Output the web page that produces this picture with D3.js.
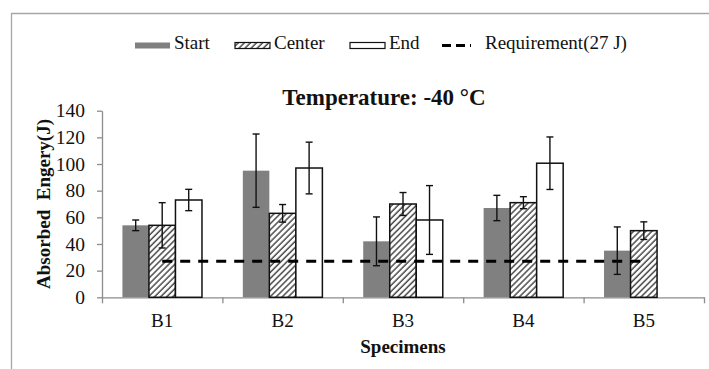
<!DOCTYPE html>
<html>
<head>
<meta charset="utf-8">
<script src="https://cdn.jsdelivr.net/npm/d3@7"></script>
<style>
  body { margin: 0; background: #fff; }
  svg { display: block; font-family: "Liberation Serif", "Times New Roman", serif; }
</style>
</head>
<body>
<div id="chart"></div>
<script>
/** Chart data */
const categories = ["B1", "B2", "B3", "B4", "B5"];
const seriesNames = ["Start", "Center", "End"];
const startVals = [54, 95, 42, 67, 35];
const startErr = [4, 27.5, 18.3, 9.5, 17.8];
const centerVals = [54, 63, 70, 71, 50];
const centerErr = [17, 6.6, 8.6, 4.5, 6.6];
const endVals = [73, 97, 58, 100.6, null];
const endErr = [8, 19.4, 25.8, 19.7, null];
const requirement = 27;
const yTicks = [0, 20, 40, 60, 80, 100, 120, 140];

const w = 709, h = 369;
const plot = {left: 102, right: 704, top: 110.7, bottom: 297.3};
const serif = "'Liberation Serif', 'Times New Roman', serif";

const svg = d3.select("#chart").append("svg")
  .attr("width", w)
  .attr("height", h);

/** Hatch pattern for the Center series */
const defs = svg.append("defs");
const pat = defs.append("pattern")
  .attr("id", "hatch")
  .attr("patternUnits", "userSpaceOnUse")
  .attr("width", 4.3)
  .attr("height", 4.3)
  .attr("patternTransform", "rotate(45)");
pat.append("rect").attr("width", 4.3).attr("height", 4.3).attr("fill", "#fff");
pat.append("line")
  .attr("x1", 1).attr("y1", 0).attr("x2", 1).attr("y2", 4.3)
  .attr("stroke", "#4a4a4a")
  .attr("stroke-width", 1.5);

const styles = {
  Start: {fill: "#808080", stroke: "none"},
  Center: {fill: "url(#hatch)", stroke: "#111"},
  End: {fill: "#fff", stroke: "#111"}
};

/** Frame around the figure */
svg.append("path")
  .attr("d", `M11.5,${h} V13.5 H${w}`)
  .attr("fill", "none")
  .attr("stroke", "#a6a6a6")
  .attr("stroke-width", 1.3);

/** Scales */
const x = d3.scaleBand().domain(categories).range([plot.left, plot.right]).padding(0);
const x1 = d3.scaleBand().domain(seriesNames).range([0, x.bandwidth()]).paddingInner(0).paddingOuter(0.77);
const y = d3.scaleLinear().domain([0, 140]).range([plot.bottom, plot.top]);
const xEdges = d3.scaleLinear().domain([0, categories.length]).range([plot.left, plot.right]);

/** Rows for bars */
const rows = [];
categories.forEach((c, i) => {
  [[startVals, startErr, "Start"], [centerVals, centerErr, "Center"], [endVals, endErr, "End"]]
    .forEach(([vals, errs, s]) => {
      if (vals[i] != null) rows.push({cat: c, series: s, value: vals[i], err: errs[i]});
    });
});

/** Axes */
const yAxis = svg.append("g")
  .attr("transform", `translate(${plot.left},0)`)
  .call(d3.axisLeft(y).tickValues(yTicks).tickSize(5).tickSizeOuter(0).tickPadding(12))
  .attr("font-family", serif);
yAxis.selectAll("text").style("font-size", "19.5px").attr("fill", "#111");
yAxis.selectAll("line, path").attr("stroke", "#8c8c8c").attr("stroke-width", 1.3);

const xTickAxis = svg.append("g")
  .attr("transform", `translate(0,${plot.bottom})`)
  .call(d3.axisBottom(xEdges).ticks(categories.length).tickSize(6).tickSizeOuter(0).tickFormat(""));
xTickAxis.selectAll("line, path").attr("stroke", "#8c8c8c").attr("stroke-width", 1.3);

const xLabelAxis = svg.append("g")
  .attr("transform", `translate(0,${plot.bottom})`)
  .call(d3.axisBottom(x).tickSize(0).tickPadding(16))
  .attr("font-family", serif);
xLabelAxis.select(".domain").remove();
xLabelAxis.selectAll("text").style("font-size", "19px").attr("fill", "#111");

/** Bars */
svg.append("g").selectAll("rect")
  .data(rows)
  .enter()
  .append("rect")
  .attr("x", d => x(d.cat) + x1(d.series))
  .attr("y", d => y(d.value))
  .attr("width", x1.bandwidth())
  .attr("height", d => y(0) - y(d.value))
  .attr("fill", d => styles[d.series].fill)
  .attr("stroke", d => styles[d.series].stroke)
  .attr("stroke-width", 1.5);

/** Requirement line */
svg.append("line")
  .attr("x1", x(categories[0]) + x.bandwidth() / 2)
  .attr("x2", x(categories[categories.length - 1]) + x.bandwidth() / 2)
  .attr("y1", y(requirement))
  .attr("y2", y(requirement))
  .attr("stroke", "#000")
  .attr("stroke-width", 3)
  .attr("stroke-dasharray", "10,8");

/** Error bars */
const eb = svg.append("g").selectAll("g")
  .data(rows)
  .enter()
  .append("g")
  .attr("stroke", "#111")
  .attr("stroke-width", 1.4);
const cx = d => x(d.cat) + x1(d.series) + x1.bandwidth() / 2;
eb.append("line")
  .attr("x1", cx).attr("x2", cx)
  .attr("y1", d => y(d.value - d.err))
  .attr("y2", d => y(d.value + d.err));
[1, -1].forEach(sign => {
  eb.append("line")
    .attr("x1", d => cx(d) - 3.5).attr("x2", d => cx(d) + 3.5)
    .attr("y1", d => y(d.value + sign * d.err))
    .attr("y2", d => y(d.value + sign * d.err));
});

/** Title and axis titles */
svg.append("text")
  .attr("x", 384)
  .attr("y", 105)
  .attr("text-anchor", "middle")
  .style("font-size", "23px")
  .style("font-weight", "bold")
  .attr("fill", "#111")
  .text("Temperature: -40 °C");

svg.append("text")
  .attr("x", (plot.left + plot.right) / 2)
  .attr("y", 353)
  .attr("text-anchor", "middle")
  .style("font-size", "19px")
  .style("font-weight", "bold")
  .attr("fill", "#111")
  .text("Specimens");

svg.append("text")
  .attr("transform", "translate(50,204) rotate(-90)")
  .attr("text-anchor", "middle")
  .style("font-size", "19px")
  .style("font-weight", "bold")
  .style("white-space", "pre")
  .attr("fill", "#111")
  .text("Absorbed  Engery(J)");

/** Legend */
const legend = svg.append("g").attr("class", "legend");
const legendItems = [
  {name: "Start", x: 135, type: "rect"},
  {name: "Center", x: 235, type: "rect"},
  {name: "End", x: 350, type: "rect"},
  {name: "Requirement(27 J)", x: 442, type: "line"}
];
legendItems.forEach(it => {
  if (it.type === "rect") {
    legend.append("rect")
      .attr("x", it.x).attr("y", 42.5)
      .attr("width", 35).attr("height", 6)
      .attr("fill", styles[it.name].fill)
      .attr("stroke", styles[it.name].stroke)
      .attr("stroke-width", 1.2);
  } else {
    legend.append("line")
      .attr("x1", it.x).attr("x2", it.x + 29)
      .attr("y1", 45.5).attr("y2", 45.5)
      .attr("stroke", "#000")
      .attr("stroke-width", 3)
      .attr("stroke-dasharray", "9,5");
  }
  legend.append("text")
    .attr("x", it.type === "rect" ? it.x + 39 : it.x + 43)
    .attr("y", 48.5)
    .style("font-size", "19px")
    .attr("fill", "#111")
    .text(it.name);
});
</script>
</body>
</html>
